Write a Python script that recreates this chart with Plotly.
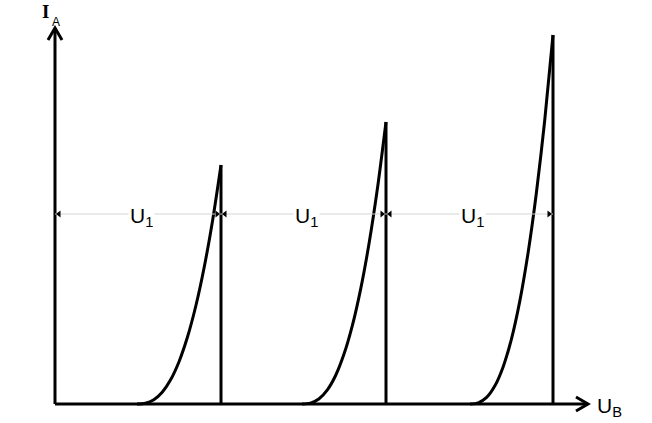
import plotly.graph_objects as go

# Anode current I_A vs accelerating voltage U_B (arbitrary units)
curve1_x = [82, 90.4, 98.8, 107.2, 115.6, 124, 132.4, 140.8, 149.2, 157.6, 166]
curve1_y = [0, 0.8, 4.3, 11.8, 24.2, 42.3, 66.7, 98, 136.8, 183.6, 239]
curve2_x = [247, 255.4, 263.8, 272.2, 280.6, 289, 297.4, 305.8, 314.2, 322.6, 331]
curve2_y = [0, 0.9, 5, 13.9, 28.5, 49.9, 78.6, 115.6, 161.4, 216.7, 282]
curve3_x = [415, 423.3, 431.6, 439.9, 448.2, 456.5, 464.8, 473.1, 481.4, 489.7, 498]
curve3_y = [0, 1.2, 6.6, 18.2, 37.3, 65.2, 102.9, 151.3, 211.2, 283.5, 369]
curves = [(curve1_x, curve1_y), (curve2_x, curve2_y), (curve3_x, curve3_y)]

dim_level = 190           # height of the U1 dimension lines
dim_label = "U<sub>1</sub>"
x_axis_len = 533
y_axis_len = 376
x_label = "U<sub>B</sub>"
y_label_main = "<b>I</b>"
y_label_sub = "A"

fig = go.Figure()

# axes
fig.add_trace(go.Scatter(x=[0, x_axis_len], y=[0, 0], mode="lines",
                         line=dict(color="black", width=3), hoverinfo="skip"))
fig.add_trace(go.Scatter(x=[0, 0], y=[0, y_axis_len], mode="lines",
                         line=dict(color="black", width=3), hoverinfo="skip"))
# chevron arrowheads
fig.add_trace(go.Scatter(x=[-7, 0, 7], y=[y_axis_len - 12, y_axis_len, y_axis_len - 12],
                         mode="lines", line=dict(color="black", width=3), hoverinfo="skip"))
fig.add_trace(go.Scatter(x=[x_axis_len - 12, x_axis_len, x_axis_len - 12], y=[7, 0, -7],
                         mode="lines", line=dict(color="black", width=3), hoverinfo="skip"))

# curves with vertical drop
for cx, cy in curves:
    fig.add_trace(go.Scatter(x=cx, y=cy, mode="lines",
                             line=dict(color="black", width=3, shape="spline", smoothing=0.8),
                             hoverinfo="skip"))
    fig.add_trace(go.Scatter(x=[cx[-1], cx[-1]], y=[cy[-1], 0], mode="lines",
                             line=dict(color="black", width=3), hoverinfo="skip"))

# dimension lines
edges = [0] + [c[0][-1] for c in curves]
for a, b in zip(edges[:-1], edges[1:]):
    fig.add_trace(go.Scatter(x=[a, b], y=[dim_level, dim_level], mode="lines",
                             line=dict(color="#d4d4d4", width=1), hoverinfo="skip"))
    fig.add_trace(go.Scatter(x=[a + 4, b - 4], y=[dim_level, dim_level], mode="markers",
                             marker=dict(symbol=["triangle-left", "triangle-right"],
                                         size=6, color="black"),
                             hoverinfo="skip"))
    fig.add_annotation(x=(a + b) / 2 + 3, y=dim_level, text=dim_label, showarrow=False,
                       font=dict(family="Liberation Sans", size=21, color="black"),
                       bgcolor="white", xanchor="center", yanchor="middle", yshift=-3)

fig.add_annotation(x=x_axis_len + 7, y=-3, text=x_label, showarrow=False,
                   font=dict(family="Liberation Sans", size=21, color="black"),
                   xanchor="left", yanchor="middle")
fig.add_annotation(x=-10, y=y_axis_len + 17, text=y_label_main, showarrow=False,
                   font=dict(family="Liberation Serif", size=19, color="black"),
                   xanchor="center", yanchor="middle")
fig.add_annotation(x=1, y=y_axis_len + 6, text=y_label_sub, showarrow=False,
                   font=dict(family="Liberation Sans", size=12, color="black"),
                   xanchor="center", yanchor="middle")

fig.update_layout(
    width=652, height=423,
    margin=dict(l=0, r=0, t=0, b=0),
    paper_bgcolor="white", plot_bgcolor="white",
    showlegend=False,
    xaxis=dict(range=[-55, 597], visible=False, fixedrange=True),
    yaxis=dict(range=[-19, 404], visible=False, fixedrange=True),
)

fig.write_html("out.html",
               config={"displayModeBar": False},
               post_script="document.body.style.margin='0';document.body.style.overflow='hidden';")
